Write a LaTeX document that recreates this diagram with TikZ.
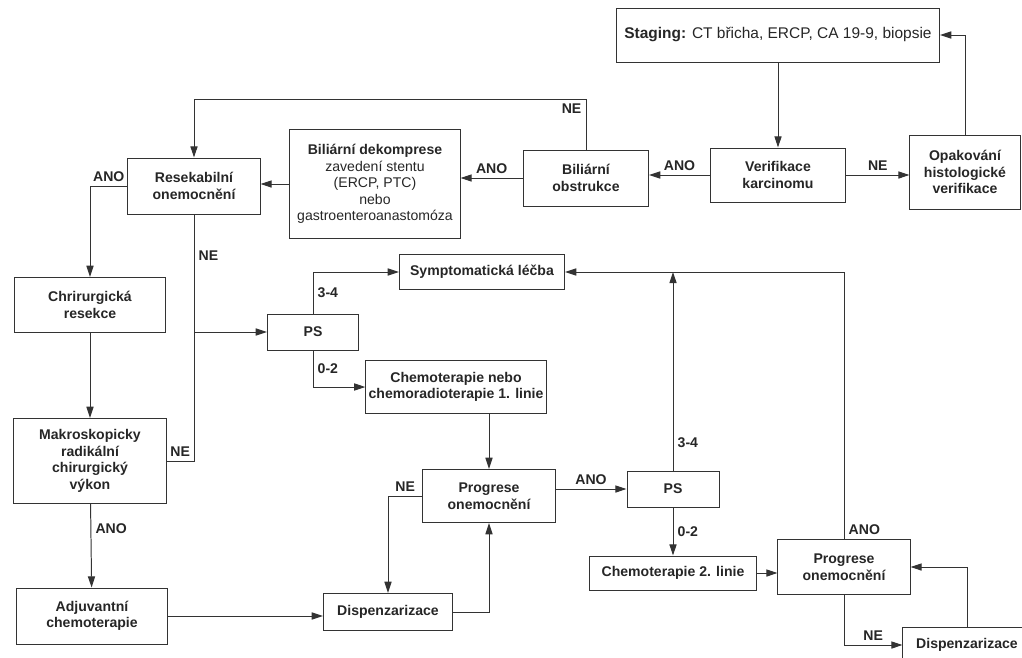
\documentclass[tikz,border=0pt]{standalone}
\usepackage{fontspec}
\setmainfont{Liberation Sans}
\usetikzlibrary{arrows.meta}

\begin{document}
\begin{tikzpicture}[
    x=0.025cm, y=-0.025cm,
    every node/.style={font=\fontsize{10}{11.8}\selectfont\bfseries, text=black!85},
    box/.style={draw=black!80, line width=0.7pt, align=center, inner sep=2pt},
    flow/.style={-{Triangle[length=2.8mm, width=1.8mm]}, draw=black!80, line width=0.7pt},
    link/.style={draw=black!80, line width=0.7pt},
    lbl/.style={inner sep=3pt}
]
\useasboundingbox (0,0) rectangle (1022,658);

% upper row
\node[box, minimum width=8.08cm, minimum height=1.35cm, font=\fontsize{11}{13}\selectfont\bfseries] (staging) at (778,35) {Staging: {\mdseries CT břicha, ERCP, CA 19-9, biopsie}};
\node[box, minimum width=3.38cm, minimum height=1.35cm] (verif) at (778,175) {Verifikace\\karcinomu};
\node[box, minimum width=2.75cm, minimum height=1.85cm] (opak) at (965,172) {Opakování\\histologické\\verifikace};
\node[box, minimum width=3.13cm, minimum height=1.4cm] (bilobs) at (586,178) {Biliární\\obstrukce};
\node[box, minimum width=4.25cm, minimum height=2.7cm] (bildek) at (375,184) {Biliární dekomprese\\\mdseries zavedení stentu\\\mdseries (ERCP, PTC)\\\mdseries nebo\\\mdseries gastroenteroanastomóza};
\node[box, minimum width=3.3cm, minimum height=1.4cm] (resek) at (194,186) {Resekabilní\\onemocnění};

% left column
\node[box, minimum width=3.75cm, minimum height=1.38cm] (chir) at (90,305) {Chrirurgická\\resekce};
\node[box, minimum width=3.8cm, minimum height=2.13cm] (makro) at (90,461) {Makroskopicky\\radikální\\chirurgický\\výkon};
\node[box, minimum width=3.78cm, minimum height=1.4cm] (adj) at (92,616) {Adjuvantní\\chemoterapie};

% middle
\node[box, minimum width=4.13cm, minimum height=0.88cm] (symp) at (482,272) {Symptomatická léčba};
\node[box, minimum width=2.28cm, minimum height=0.9cm] (ps1) at (313,332) {PS};
\node[box, minimum width=4.23cm, minimum height=1.33cm] (chemo1) at (456,387) {Chemoterapie nebo\\chemoradioterapie 1. linie};
\node[box, minimum width=3.3cm, minimum height=1.33cm] (prog1) at (489,496) {Progrese\\onemocnění};
\node[box, minimum width=3.23cm, minimum height=0.93cm] (disp1) at (388,612) {Dispenzarizace};

% right bottom
\node[box, minimum width=2.3cm, minimum height=0.9cm] (ps2) at (673,489) {PS};
\node[box, minimum width=4.15cm, minimum height=0.85cm] (chemo2) at (673,573) {Chemoterapie 2. linie};
\node[box, minimum width=3.3cm, minimum height=1.38cm] (prog2) at (844,567) {Progrese\\onemocnění};
\node[box, minimum width=3.2cm, minimum height=0.9cm] (disp2) at (967,645) {Dispenzarizace};

\coordinate (jn) at (resek.south |- ps1.west);
\coordinate (sj) at (ps2.north |- symp.east);

\draw[flow] (staging) -- (verif);
\draw[flow] (verif.west) -- node[lbl, above] {ANO} (verif.west -| bilobs.east);
\draw[flow] (verif.east) -- node[lbl, above] {NE} (verif.east -| opak.west);
\draw[flow] (opak.north) |- (staging.east);
\draw[flow] (bilobs.west) -- node[lbl, above] {ANO} (bilobs.west -| bildek.east);
\draw[flow] (bilobs.north) -- ++(0,-50) node[lbl, below left] {NE} -| (resek.north);
\draw[flow] (bildek.west) -- (bildek.west -| resek.east);
\draw[flow] (resek.west) -| node[lbl, above, pos=0.25] {ANO} (chir.north);
\draw[flow] (resek.south) -- node[lbl, right, pos=0.35] {NE} (jn) -- (ps1.west);
\draw[link] (makro.east) -| node[lbl, above, pos=0.25] {NE} (jn);
\draw[flow] (chir) -- (makro);
\draw[flow] (makro) -- node[lbl, right, pos=0.3] {ANO} (adj);
\draw[flow] (adj.east) -- (adj.east -| disp1.west);
\draw[flow] (ps1.north) |- node[lbl, right, pos=0.25] {3-4} (symp.west);
\draw[flow] (ps1.south) |- node[lbl, right, pos=0.25] {0-2} (chemo1.west);
\draw[flow] (prog1.north |- chemo1.south) -- (prog1.north);
\draw[flow] (prog1.west) -| node[lbl, above, pos=0.25] {NE} (disp1.north);
\draw[flow] (disp1.east) -| (prog1.south);
\draw[flow] (prog1.east |- ps2.west) -- node[lbl, above] {ANO} (ps2.west);
\draw[flow] (ps2.north) -- node[lbl, right, pos=0.14] {3-4} (sj);
\draw[flow] (prog2.north) node[lbl, above right] {ANO} |- (symp.east);
\draw[flow] (ps2) -- node[lbl, right] {0-2} (chemo2);
\draw[flow] (chemo2.east) -- (chemo2.east -| prog2.west);
\draw[flow] (prog2.south) |- node[lbl, above, pos=0.75] {NE} (disp2.west);
\draw[flow] (disp2.north) |- (prog2.east);
\end{tikzpicture}
\end{document}
